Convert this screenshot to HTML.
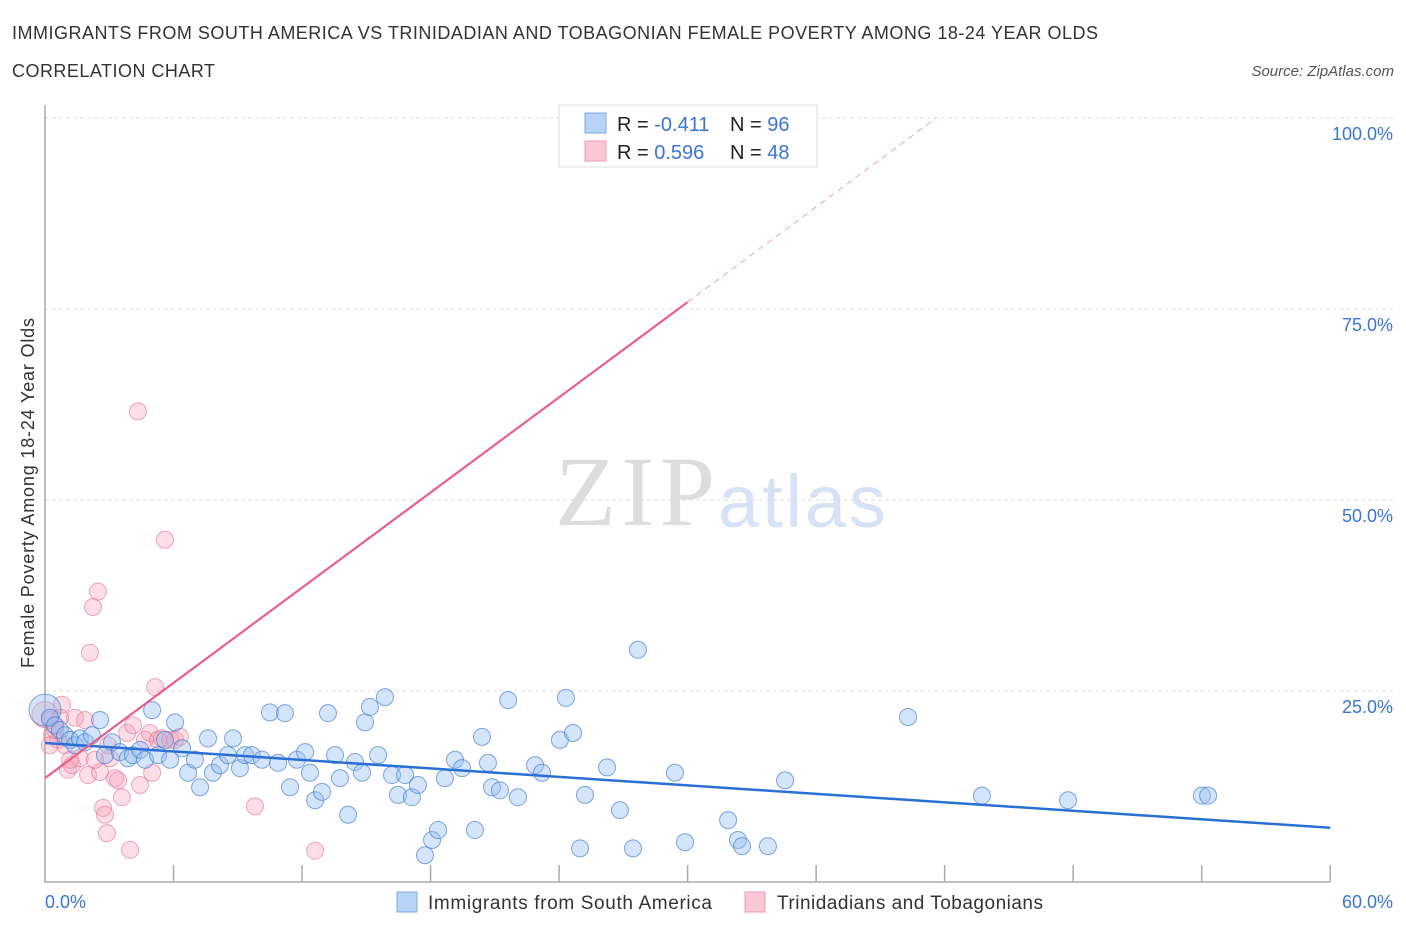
<!DOCTYPE html>
<html><head><meta charset="utf-8"><style>
body{margin:0;background:#fff;font-family:"Liberation Sans",sans-serif;}
svg{display:block}
</style></head><body>
<svg id="c" width="1406" height="930">
<text x="12" y="39" font-size="18" fill="#333" textLength="1086">IMMIGRANTS FROM SOUTH AMERICA VS TRINIDADIAN AND TOBAGONIAN FEMALE POVERTY AMONG 18-24 YEAR OLDS</text>
<text x="12" y="77" font-size="18" fill="#333" textLength="203">CORRELATION CHART</text>
<text x="1394" y="76" font-size="15" font-style="italic" fill="#555" text-anchor="end">Source: ZipAtlas.com</text>
<text x="555" y="525" font-size="100" font-family="Liberation Serif,serif" fill="#ddd" textLength="160">ZIP</text>
<text x="718" y="527" font-size="74" fill="#d6e2f5" textLength="168">atlas</text>
<text transform="translate(34,493) rotate(-90)" font-size="18" fill="#333" text-anchor="middle" textLength="350">Female Poverty Among 18-24 Year Olds</text>
<g id="grid"></g><g id="marks"></g>
<g>
<rect x="559" y="105" width="258" height="62" fill="#fff" stroke="#ddd"/>
<rect x="585" y="113" width="21" height="20" fill="#b8d3f5" stroke="#7aa8e8"/>
<rect x="585" y="141" width="21" height="20" fill="#f9c8d6" stroke="#ee9ab3"/>
<text x="617" y="131" font-size="20" fill="#222">R = <tspan fill="#3a74d4">-0.411</tspan></text>
<text x="730" y="131" font-size="20" fill="#222">N = <tspan fill="#3a74d4">96</tspan></text>
<text x="617" y="159" font-size="20" fill="#222">R =  <tspan fill="#3a74d4">0.596</tspan></text>
<text x="730" y="159" font-size="20" fill="#222">N = <tspan fill="#3a74d4">48</tspan></text>
</g>
<g>
<rect x="397" y="892" width="20" height="20" fill="#b8d3f5" stroke="#7aa8e8"/>
<text x="428" y="909" font-size="19" fill="#333" textLength="284">Immigrants from South America</text>
<rect x="745" y="892" width="20" height="20" fill="#f9c8d6" stroke="#ee9ab3"/>
<text x="777" y="909" font-size="19" fill="#333" textLength="266">Trinidadians and Tobagonians</text>
</g>
</svg>
<script>
const yTicks=[25,50,75,100];
const yTickLabels=["25.0%","50.0%","75.0%","100.0%"];
const xTickVals=[0,6,12,18,24,30,36,42,48,54,60];
const blueX=[0.0,0.23,0.47,0.70,0.93,1.17,1.40,1.63,1.87,2.19,2.57,2.80,3.13,3.50,3.87,4.11,4.44,4.67,5.00,5.28,5.60,5.84,6.07,6.40,6.68,7.00,7.24,7.61,7.84,8.17,8.54,8.78,9.10,9.34,9.66,10.13,10.50,10.88,11.20,11.44,11.76,12.14,12.37,12.61,12.93,13.21,13.54,13.77,14.15,14.47,14.80,14.94,15.17,15.55,15.87,16.20,16.48,16.81,17.13,17.41,17.74,18.07,18.35,18.67,19.14,19.47,20.07,20.40,20.68,20.87,21.24,21.62,22.08,22.88,23.20,24.04,24.32,24.65,24.98,25.21,26.24,26.84,27.45,27.68,29.41,29.88,31.89,32.35,32.54,33.75,34.55,40.29,43.74,47.76,54.01,54.30];
const blueY=[22.5,21.5,20.5,19.9,19.2,18.6,17.9,18.8,18.3,19.2,21.2,16.6,18.3,17.0,16.2,16.6,17.3,16.0,22.5,16.6,18.6,16.0,20.9,17.5,14.3,16.0,12.4,18.8,14.3,15.3,16.6,18.8,14.9,16.6,16.6,16.0,22.2,15.6,22.1,12.4,16.0,17.0,14.3,10.7,11.8,22.1,16.6,13.6,8.8,15.7,14.3,20.9,22.9,16.6,24.2,14.0,11.4,14.0,11.1,12.7,3.5,5.5,6.8,13.6,16.0,14.9,6.8,19.0,15.6,12.4,12.0,23.8,11.1,15.3,14.3,18.6,24.1,19.5,4.4,11.4,15.0,9.4,4.4,30.4,14.3,5.2,8.1,5.5,4.7,4.7,13.3,21.6,11.3,10.7,11.3,11.3];
const pinkX=[0,0.23,0.33,0.47,0.61,0.79,0.93,1.07,1.26,1.40,1.63,1.87,2.01,2.10,2.24,2.47,2.57,2.71,2.80,2.89,3.03,3.27,3.41,3.59,3.83,3.97,4.11,4.34,4.44,4.67,4.90,5.00,5.28,5.46,5.60,5.84,6.07,6.30,5.14,9.80,12.61,28.24,0.70,1.17,0.23,0.47,2.33,2.94];
const pinkY=[21.9,21.2,19.2,20.5,18.6,23.2,17.9,14.7,15.3,21.5,16.2,21.2,14.0,30.0,36.0,38.0,14.4,9.7,8.8,6.4,16.2,13.6,13.3,11.1,19.5,4.2,20.5,61.6,12.7,18.6,19.5,14.3,18.6,18.8,44.8,18.6,18.6,19.0,25.5,9.9,4.1,100.0,21.5,16.0,17.9,19.9,16.0,17.9];
const blueTrend=[18.2,7.1];
const pinkTrend=[13.6,75.9];
const pinkSolidEnd=30.0, pinkDashEnd=41.6;

const X=v=>45+v*21.42, Y=v=>882-v*7.64;
const NS="http://www.w3.org/2000/svg";
function mk(t,a,p){const e=document.createElementNS(NS,t);for(const k in a)e.setAttribute(k,a[k]);p.appendChild(e);return e;}
const grid=document.getElementById('grid'), marks=document.getElementById('marks');
yTicks.forEach((v,i)=>{
 const l=mk('line',{x1:45,x2:1395,y1:Y(v),y2:Y(v),stroke:'#ddd','stroke-dasharray':'4 3'},grid);
 
 
 const t=mk('text',{x:1393,y:Y(v)+22,'font-size':18,fill:'#3a74d4','text-anchor':'end'},grid);
 t.textContent=yTickLabels[i];
 
 
});
const ax=mk('path',{d:'M45,105V882H1330',stroke:'#aaa',fill:'none','stroke-width':1.5},grid);


xTickVals.forEach(v=>{if(v===0)return;
 const t=mk('line',{x1:X(v),x2:X(v),y1:865,y2:882,stroke:'#aaa','stroke-width':1.5},grid);
 
 
});
const xl=mk('text',{x:45,y:908,'font-size':18,fill:'#3a74d4'},grid);xl.textContent='0.0%';


const xr=mk('text',{x:1393,y:908,'font-size':18,fill:'#3a74d4','text-anchor':'end'},grid);xr.textContent='60.0%';



pinkX.forEach((x,i)=>{
 const c=mk('circle',{cx:X(x),cy:Y(pinkY[i]),r:i===0?13:8.5,fill:'rgba(244,160,185,0.35)',stroke:'rgba(230,110,145,0.6)','stroke-width':1},marks);
 
 
});
blueX.forEach((x,i)=>{
 const c=mk('circle',{cx:X(x),cy:Y(blueY[i]),r:i===0?16:8.5,fill:'rgba(150,190,240,0.4)',stroke:'rgba(60,120,210,0.65)','stroke-width':1},marks);
 
 
});
const bt=mk('line',{x1:X(0),y1:Y(blueTrend[0]),x2:X(60),y2:Y(blueTrend[1]),stroke:'#2a6fd6','stroke-width':2.5},marks);


const ps=(pinkTrend[1]-pinkTrend[0])/pinkSolidEnd;
const pt=mk('line',{x1:X(0),y1:Y(pinkTrend[0]),x2:X(pinkSolidEnd),y2:Y(pinkTrend[1]),stroke:'#e8608a','stroke-width':2.2},marks);


const pd=mk('line',{x1:X(pinkSolidEnd),y1:Y(pinkTrend[1]),x2:X(pinkDashEnd),y2:Y(pinkTrend[0]+ps*pinkDashEnd),stroke:'#eda0b5','stroke-width':1,'stroke-dasharray':'6 5'},marks);


</script>
</body></html>
